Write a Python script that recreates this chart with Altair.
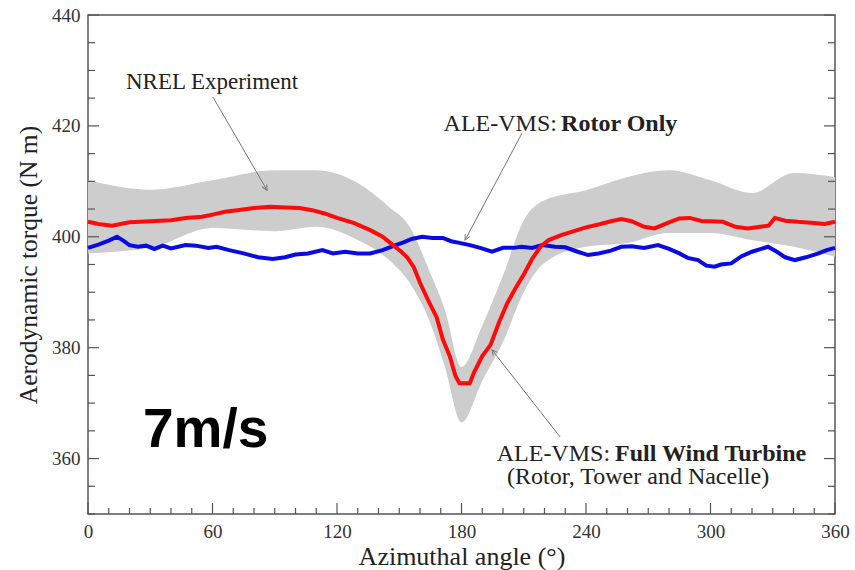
import math
import altair as alt
import pandas as pd

# Plot-area size in pixels
W, H = 747, 499
X_DOM = [0, 360]
Y_DOM = [350, 440]

SERIF = "Liberation Serif"

# ALE-VMS, full wind turbine (rotor, tower and nacelle)
full_angle = [0, 5, 11.6, 20, 30, 40, 47, 55, 60, 66, 72, 80, 88, 95, 102, 108, 114,
              120, 128, 136, 142, 147, 151, 154, 157, 160, 164, 168, 171, 174.5, 177,
              179, 184, 186, 190, 194, 198, 202, 206, 210, 214, 218, 222, 228, 233,
              240, 247, 252, 257, 262, 268, 273, 280, 285, 290, 296, 300, 306, 312,
              318, 324, 328, 331, 336, 342, 350, 355, 360]
full_torque = [402.7, 402.3, 402.0, 402.6, 402.8, 403.0, 403.4, 403.6, 404.0, 404.5,
               404.8, 405.2, 405.4, 405.3, 405.2, 404.8, 404.2, 403.4, 402.5, 401.2,
               400.0, 398.5, 397.3, 396.2, 394.5, 391.7, 388.5, 385.5, 381.5, 378.3,
               375.0, 373.6, 373.6, 375.5, 378.5, 380.5, 384.5, 388.0, 390.7, 393.2,
               396.0, 398.2, 399.4, 400.3, 400.9, 401.7, 402.3, 402.8, 403.2, 402.8,
               401.8, 401.5, 402.6, 403.3, 403.4, 402.8, 402.8, 402.7, 401.8, 401.5,
               401.8, 402.0, 403.4, 402.9, 402.7, 402.5, 402.3, 402.7]

# ALE-VMS, rotor only
rotor_angle = [0, 5, 10, 14, 17, 20, 24, 28, 32, 36, 40, 47, 52, 58, 62, 68, 75, 82,
               89, 95, 100, 106, 113, 118, 124, 130, 136, 142, 147, 152, 156, 161, 166,
               171, 175, 179, 184, 189, 194.7, 200, 205, 209, 214, 219, 225, 230, 236,
               241, 246, 252, 257, 262, 268, 274.7, 280, 285, 289, 294, 298, 302, 305,
               310, 315, 320, 327.7, 332, 336, 340.7, 346, 352, 356, 360]
rotor_torque = [398.0, 398.6, 399.3, 400.0, 399.3, 398.5, 398.2, 398.4, 397.8, 398.4,
                397.9, 398.5, 398.4, 398.0, 398.2, 397.6, 397.0, 396.3, 396.0, 396.3,
                396.8, 397.0, 397.6, 397.0, 397.3, 397.0, 397.0, 397.6, 398.3, 399.0,
                399.6, 400.0, 399.8, 399.8, 399.2, 398.9, 398.5, 398.0, 397.3, 398.0,
                398.0, 398.2, 398.0, 398.5, 398.2, 398.1, 397.3, 396.7, 397.0, 397.5,
                398.2, 398.3, 398.0, 398.5, 397.8, 397.0, 396.2, 395.8, 394.8, 394.6,
                395.0, 395.2, 396.5, 397.3, 398.2, 397.3, 396.3, 395.8, 396.3, 397.0,
                397.6, 398.0]

# NREL experiment: spread of the measured samples (upper / lower envelope)
exp_angle = [0, 30, 60, 90, 110, 130, 145, 155, 165, 172, 180, 190, 200, 210, 220,
             240, 260, 280, 300, 320, 340, 360]
exp_upper = [410.2, 408.5, 410.2, 412.0, 412.0, 409.7, 405.4, 401.8, 393.4, 386.8,
             376.5, 384.0, 393.0, 403.0, 406.6, 408.4, 410.8, 412.0, 410.2, 407.9,
             411.5, 410.8]
exp_lower = [397.0, 398.0, 401.6, 401.0, 401.8, 399.4, 395.8, 391.7, 384.4, 376.5,
             366.5, 374.0, 381.0, 390.0, 395.3, 398.2, 398.9, 400.7, 400.7, 399.4,
             398.2, 396.4]

x_major = list(range(0, 361, 60))
x_minor = [v for v in range(0, 361, 10) if v % 60]
y_major = list(range(360, 441, 20))
y_minor = [v for v in range(350, 441, 5) if v % 20]

xs = alt.Scale(domain=X_DOM, nice=False, zero=False)
ys = alt.Scale(domain=Y_DOM, nice=False, zero=False)

# One axis definition per direction, shared by every layer so they merge cleanly
X_AXIS = alt.Axis(values=x_major, tickSize=0, domain=False, grid=False,
                  labelFlush=False, labelOverlap=False,
                  labelFont=SERIF, labelFontSize=19, labelColor="#333333",
                  labelPadding=8, title="Azimuthal angle (°)",
                  titleFont=SERIF, titleFontSize=26, titleFontWeight="normal",
                  titleColor="#222222", titlePadding=2)
Y_AXIS = alt.Axis(values=y_major, tickSize=0, domain=False, grid=False,
                  labelFlush=False, labelOverlap=False,
                  labelFont=SERIF, labelFontSize=19, labelColor="#333333",
                  labelPadding=8, title="Aerodynamic torque (N m)",
                  titleFont=SERIF, titleFontSize=25.5, titleFontWeight="normal",
                  titleColor="#222222", titlePadding=10)


def X(field):
    return alt.X(field, scale=xs, axis=X_AXIS, title="Azimuthal angle (°)")


def Y(field):
    return alt.Y(field, scale=ys, axis=Y_AXIS, title="Aerodynamic torque (N m)")


full_df = pd.DataFrame({"angle": full_angle, "torque": full_torque})
rotor_df = pd.DataFrame({"angle": rotor_angle, "torque": rotor_torque})
exp_df = pd.DataFrame({"angle": exp_angle, "upper": exp_upper, "lower": exp_lower})

band = alt.Chart(exp_df).mark_area(color="#cdcdcd", interpolate="monotone").encode(
    x=X("angle:Q"), y=Y("upper:Q"), y2="lower:Q",
)

rotor_line = alt.Chart(rotor_df).mark_line(color="#0a0ae6", strokeWidth=4).encode(
    x=X("angle:Q"), y=Y("torque:Q"),
)
full_line = alt.Chart(full_df).mark_line(color="#ff0a0a", strokeWidth=4).encode(
    x=X("angle:Q"), y=Y("torque:Q"),
)

# Inward-pointing tick marks on the bottom, left and right edges
TICK_COLOR = "#555555"


def xticks(vals, length):
    return alt.Chart(pd.DataFrame({"t": vals})).mark_rule(color=TICK_COLOR, strokeWidth=1.2).encode(
        x=X("t:Q"), y=alt.value(H), y2=alt.value(H - length))


def yticks(vals, length, right=False):
    x0 = W if right else 0
    x1 = W - length if right else length
    return alt.Chart(pd.DataFrame({"t": vals})).mark_rule(color=TICK_COLOR, strokeWidth=1.2).encode(
        y=Y("t:Q"), x=alt.value(x0), x2=alt.value(x1))


ticks = [xticks(x_major, 11), xticks(x_minor, 6),
         yticks(y_major, 11), yticks(y_minor, 7),
         yticks(y_major, 11, True), yticks(y_minor, 7, True)]

ARROW = "#777777"
ARROW_HEAD = "M -0.5 -1 L 0 0 L 0.5 -1"


def arrow(x0, y0, x1, y1):
    dx = (x1 - x0) * W / (X_DOM[1] - X_DOM[0])
    dy = -(y1 - y0) * H / (Y_DOM[1] - Y_DOM[0])
    ang = (math.degrees(math.atan2(dy, dx)) - 90) % 360
    shaft = alt.Chart().mark_rule(color=ARROW, strokeWidth=1).encode(
        x=alt.datum(x0, scale=xs), x2=alt.datum(x1),
        y=alt.datum(y0, scale=ys), y2=alt.datum(y1))
    head = alt.Chart().mark_point(shape=ARROW_HEAD, size=110, angle=ang, filled=False,
                                  color=ARROW, strokeWidth=1, opacity=1).encode(
        x=alt.datum(x1, scale=xs), y=alt.datum(y1, scale=ys))
    return [shaft, head]


def label(text, x, y, align="center", weight="normal", size=24):
    return alt.Chart().mark_text(text=text, font=SERIF, fontSize=size, fontWeight=weight,
                                 align=align, baseline="middle", color="#222222").encode(
        x=alt.datum(x, scale=xs), y=alt.datum(y, scale=ys))


notes = []
notes += arrow(60.2, 425.2, 86.3, 408.4)
notes += arrow(209.2, 418.7, 181.7, 399.4)
notes += arrow(227.5, 363.9, 194.7, 379.6)
notes += [
    label("NREL Experiment", 59.8, 427.9, size=23),
    label("ALE-VMS:", 226.0, 420.3, align="right"),
    label("Rotor Only", 228.0, 420.3, align="left", weight="bold"),
    label("ALE-VMS:", 251.6, 360.9, align="right"),
    label("Full Wind Turbine", 254.0, 360.9, align="left", weight="bold"),
    label("(Rotor, Tower and Nacelle)", 265.1, 356.7),
    alt.Chart().mark_text(text="7m/s", font="Liberation Sans", fontSize=55,
                          fontWeight="bold", align="left", baseline="alphabetic",
                          color="#000000").encode(
        x=alt.datum(26.5, scale=xs), y=alt.datum(362.1, scale=ys)),
]

chart = alt.layer(band, *ticks, rotor_line, full_line, *notes).properties(
    width=W, height=H,
    autosize=alt.AutoSizeParams(type="none"),
    padding={"left": 88, "top": 15, "right": 20, "bottom": 56},
    background="white",
).configure_view(stroke="#555555", strokeWidth=1.5)

chart.save("out.html", embed_options={"renderer": "svg", "actions": False})
